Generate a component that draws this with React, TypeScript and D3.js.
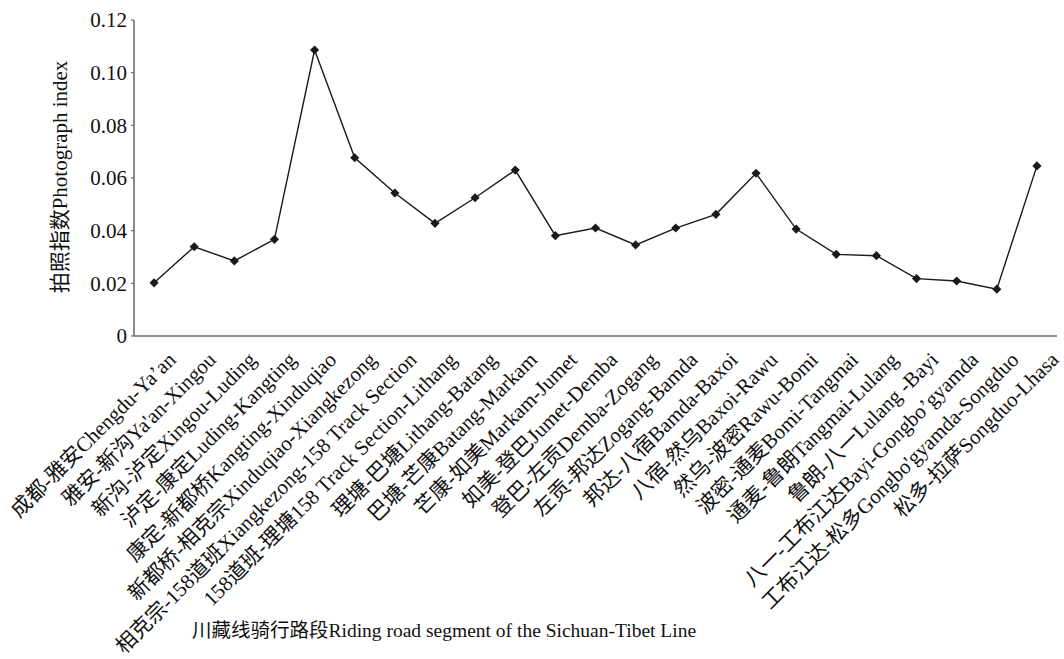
import React from "react";
import * as d3 from "d3";

const categories: string[] = [
  "成都-雅安Chengdu-Ya’an",
  "雅安-新沟Ya'an-Xingou",
  "新沟-泸定Xingou-Luding",
  "泸定-康定Luding-Kangting",
  "康定-新都桥Kangting-Xinduqiao",
  "新都桥-相克宗Xinduqiao-Xiangkezong",
  "相克宗-158道班Xiangkezong-158 Track Section",
  "158道班-理塘158 Track Section-Lithang",
  "理塘-巴塘Lithang-Batang",
  "巴塘-芒康Batang-Markam",
  "芒康-如美Markam-Jumet",
  "如美-登巴Jumet-Demba",
  "登巴-左贡Demba-Zogang",
  "左贡-邦达Zogang-Bamda",
  "邦达-八宿Bamda-Baxoi",
  "八宿-然乌Baxoi-Rawu",
  "然乌-波密Rawu-Bomi",
  "波密-通麦Bomi-Tangmai",
  "通麦-鲁朗Tangmai-Lulang",
  "鲁朗-八一Lulang -Bayi",
  "八一-工布江达Bayi-Gongbo’gyamda",
  "工布江达-松多Gongbo'gyamda-Songduo",
  "松多-拉萨Songduo-Lhasa",
];

const photoIndex: number[] = [
  0.0202, 0.0339, 0.0285, 0.0367, 0.1086, 0.0677, 0.0543, 0.0428, 0.0525,
  0.063, 0.0381, 0.041, 0.0346, 0.041, 0.0462, 0.0618, 0.0406, 0.031,
  0.0305, 0.0218, 0.0209, 0.0178, 0.0646,
];

const yTicks: number[] = [0, 0.02, 0.04, 0.06, 0.08, 0.1, 0.12];
const yTickLabels: string[] = ["0", "0.02", "0.04", "0.06", "0.08", "0.10", "0.12"];

const yTitle = "拍照指数Photograph index";
const xTitle = "川藏线骑行路段Riding road segment of the Sichuan-Tibet Line";

const W = 1064;
const H = 659;
const FONT = "'Liberation Serif', 'Times New Roman', 'Noto Sans CJK SC', serif";

export default function App() {
  const left = 134;
  const right = 1057;
  const top = 20;
  const bottom = 336;

  const x = d3
    .scaleBand<string>()
    .domain(categories.map((_, i) => String(i)))
    .range([left, right])
    .paddingInner(0)
    .paddingOuter(0);
  const y = d3.scaleLinear().domain([0, 0.12]).range([bottom, top]);

  const cx = (i: number) => (x(String(i)) as number) + x.bandwidth() / 2;

  const line = d3
    .line<number>()
    .x((_, i) => cx(i))
    .y((d) => y(d));

  const diamond = d3.symbol().type(d3.symbolSquare).size(42)() as string;

  return (
    <svg
      width={W}
      height={H}
      style={{ position: "absolute", left: 0, top: 0, background: "#fff" }}
      fontFamily={FONT}
    >
      {/* Y axis */}
      <line x1={left} y1={top} x2={left} y2={bottom} stroke="#6e6e6e" strokeWidth={1.6} />
      {yTicks.map((t, i) => (
        <g key={i}>
          <line x1={left - 3} x2={left} y1={y(t)} y2={y(t)} stroke="#6e6e6e" strokeWidth={1.2} />
          <text
            x={127}
            y={y(t)}
            dy="0.35em"
            textAnchor="end"
            fontSize={21}
            fill="#111"
          >
            {yTickLabels[i]}
          </text>
        </g>
      ))}
      {/* X axis */}
      <line x1={left} y1={bottom} x2={right} y2={bottom} stroke="#6e6e6e" strokeWidth={1.6} />

      {/* Line */}
      <path d={line(photoIndex) || ""} fill="none" stroke="#1a1a1a" strokeWidth={1.4} />
      {photoIndex.map((v, i) => (
        <path
          key={i}
          d={diamond}
          transform={`translate(${cx(i)},${y(v)}) rotate(45)`}
          fill="#1a1a1a"
        />
      ))}

      {/* Category labels */}
      {categories.map((c, i) => (
        <text
          key={i}
          transform={`translate(${cx(i) + 23},${bottom + 25}) rotate(-45)`}
          textAnchor="end"
          fontSize={21}
          fill="#111"
        >
          {c}
        </text>
      ))}

      {/* Axis titles */}
      <text
        transform={`translate(67,177) rotate(-90)`}
        textAnchor="middle"
        fontSize={21}
        fill="#111"
      >
        {yTitle}
      </text>
      <text x={192} y={637} fontSize={19.5} fill="#111">
        {xTitle}
      </text>
    </svg>
  );
}
